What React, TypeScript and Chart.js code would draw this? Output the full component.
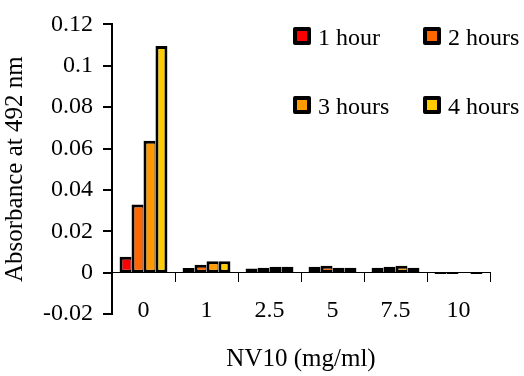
import React, { useEffect, useRef } from 'react';
import { Chart, registerables } from 'chart.js';

Chart.register(...registerables);

const categories = ['0', '1', '2.5', '5', '7.5', '10'];
const seriesNames = ['1 hour', '2 hours', '3 hours', '4 hours'];
const hour1 = [0.0077, 0.0022, 0.002, 0.0028, 0.0024, -0.0007];
const hours2 = [0.0329, 0.0038, 0.0024, 0.0033, 0.0028, -0.0007];
const hours3 = [0.0638, 0.0055, 0.0028, 0.0024, 0.0033, 0];
const hours4 = [0.1096, 0.0055, 0.0028, 0.0024, 0.0024, -0.0007];
const seriesColors = ['#FF0000', '#FF6600', '#FF9900', '#FFCC00'];
const yMin = -0.02;
const yMax = 0.12;
const yStep = 0.02;

const FONT = '"Liberation Serif", "Times New Roman", serif';

const legendPlugin = {
  id: 'gridLegend',
  afterDraw(chart: any) {
    const ctx = chart.ctx;
    const colX = [293, 423];
    const rowY = [27, 96];
    const size = 18;
    const bw = 4;
    ctx.save();
    chart.data.datasets.forEach((ds: any, i: number) => {
      const x = colX[i % 2];
      const y = rowY[Math.floor(i / 2)];
      ctx.fillStyle = '#000';
      ctx.beginPath();
      (ctx as any).roundRect(x, y, size, size, 2);
      ctx.fill();
      ctx.fillStyle = ds.backgroundColor;
      ctx.fillRect(x + bw, y + bw, size - 2 * bw, size - 2 * bw);
      ctx.fillStyle = '#000';
      ctx.font = `24px ${FONT}`;
      ctx.textAlign = 'left';
      ctx.textBaseline = 'alphabetic';
      ctx.fillText(ds.label, x + 25, y + 18);
    });
    ctx.restore();
  },
};

export default function App() {
  const ref = useRef<HTMLCanvasElement | null>(null);

  useEffect(() => {
    if (!ref.current) return;
    const values = [hour1, hours2, hours3, hours4];
    const chart = new Chart(ref.current, {
      type: 'bar',
      data: {
        labels: categories,
        datasets: values.map((v, i) => ({
          label: seriesNames[i],
          data: v,
          backgroundColor: seriesColors[i],
          borderColor: '#000',
          borderWidth: { top: 3, bottom: 3, left: 3, right: i === 3 ? 3 : 1 },
          borderSkipped: false,
          categoryPercentage: 0.76,
          barPercentage: 1,
          xAxisID: 'x',
          yAxisID: 'y',
        })),
      },
      options: {
        animation: false,
        responsive: false,
        devicePixelRatio: 1,
        layout: { padding: { top: 17, right: 34, left: 0, bottom: 0 } },
        plugins: { legend: { display: false }, tooltip: { enabled: false } },
        scales: {
          x: {
            type: 'category',
            position: 'bottom',
            offset: true,
            grid: { display: false, drawTicks: false, drawOnChartArea: false },
            border: { display: false },
            ticks: { display: false },
            title: { display: true, text: 'NV10 (mg/ml)', color: '#000', font: { family: FONT, size: 25 }, padding: { top: 0, bottom: 2 } },
            afterFit: (s: any) => { s.height = 62; },
          },
          x2: {
            type: 'category',
            position: { y: 0 },
            offset: true,
            grid: { offset: true, display: true, drawOnChartArea: false, drawTicks: true, tickLength: 9, color: '#000', lineWidth: 1 },
            border: { display: true, color: '#000', width: 1 },
            ticks: { display: true, color: '#000', font: { family: FONT, size: 24 }, padding: 14.5, maxRotation: 0, autoSkip: false },
            afterFit: (s: any) => { s.height = 0; },
          },
          y: {
            type: 'linear',
            position: 'left',
            min: yMin,
            max: yMax,
            grid: { drawOnChartArea: false, drawTicks: true, tickLength: 9, color: '#000', lineWidth: 2 },
            border: { display: true, color: '#000', width: 2 },
            ticks: {
              stepSize: yStep,
              color: '#000',
              font: { family: FONT, size: 24 },
              padding: 10,
              callback: (v: any) => String(Math.round(Number(v) * 100) / 100),
            },
            title: { display: true, text: 'Absorbance at 492 nm', color: '#000', font: { family: FONT, size: 25 }, padding: { top: 0, bottom: 0 } },
            afterFit: (s: any) => { s.width = 112; },
          },
        },
      } as any,
      plugins: [legendPlugin],
    });
    let alive = true;
    const fonts: any = (document as any).fonts;
    if (fonts && fonts.load) {
      Promise.all([
        fonts.load('24px "Liberation Serif"'),
        fonts.load('25px "Liberation Serif"'),
      ]).then(() => { if (alive) chart.update(); }).catch(() => {});
    }
    return () => { alive = false; chart.destroy(); };
  }, []);

  return (
    <div style={{ position: 'absolute', left: 0, top: 0, width: 524, height: 376, background: '#fff' }}>
      <canvas ref={ref} width={524} height={376} style={{ display: 'block' }} />
    </div>
  );
}
